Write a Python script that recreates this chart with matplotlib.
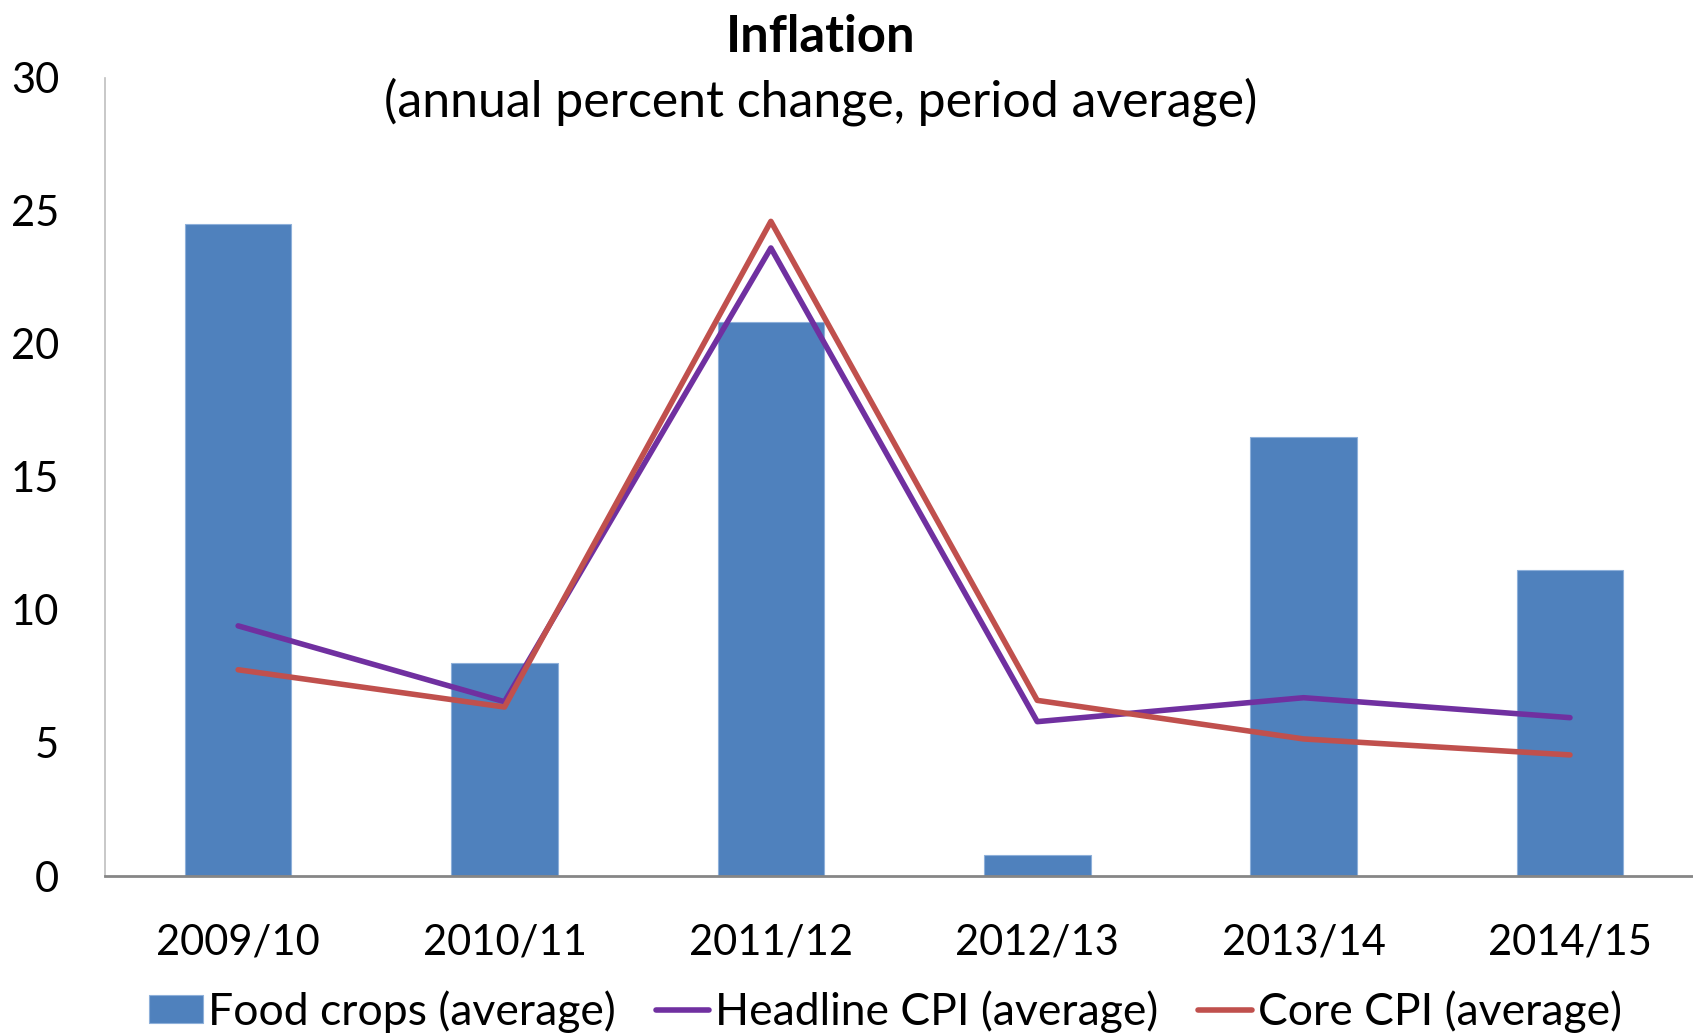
import matplotlib.pyplot as plt
import numpy as np

plt.rcParams['font.family'] = ['Lato', 'DejaVu Sans']

# data
years = ['2009/10', '2010/11', '2011/12', '2012/13', '2013/14', '2014/15']
food_crops = [24.5, 8.0, 20.8, 0.8, 16.5, 11.5]
headline_cpi = [9.4, 6.55, 23.6, 5.8, 6.7, 5.95]
core_cpi = [7.75, 6.35, 24.6, 6.6, 5.15, 4.55]

x = np.arange(len(years))

fig = plt.figure(figsize=(16.93, 10.34), dpi=100)
ax = fig.add_axes([0.062, 0.1528, 0.944, 0.7721])

bars = ax.bar(x, food_crops, width=0.4, color='#4F81BD', edgecolor='#8EB0DA',
              linewidth=0.8, label='Food crops (average)', zorder=2)
l1, = ax.plot(x, headline_cpi, color='#7030A0', lw=4.0, solid_capstyle='round',
              label='Headline CPI (average)', zorder=3)
l2, = ax.plot(x, core_cpi, color='#C0504D', lw=4.0, solid_capstyle='round',
              label='Core CPI (average)', zorder=4)

ax.set_xlim(-0.5, 5.5)
ax.set_ylim(0, 30)
ax.set_yticks([0, 5, 10, 15, 20, 25, 30])
ax.set_xticks(x)
ax.set_xticklabels(years)
ax.tick_params(axis='both', length=0, labelsize=30)
ax.tick_params(axis='x', pad=34)
ax.tick_params(axis='y', pad=33)

for side in ['top', 'right']:
    ax.spines[side].set_visible(False)
ax.spines['left'].set_color('#BFBFBF')
ax.spines['left'].set_linewidth(1.2)
ax.spines['bottom'].set_color('#868686')
ax.spines['bottom'].set_linewidth(2)

fig.text(0.485, 0.964, 'Inflation', ha='center', va='center',
         fontsize=36.5, fontweight='bold')
fig.text(0.485, 0.902, '(annual percent change, period average)',
         ha='center', va='center', fontsize=36)

fig.legend([bars, l1, l2], [bars.get_label(), l1.get_label(), l2.get_label()],
           loc='center', bbox_to_anchor=(0.523, 0.022), ncol=3,
           frameon=False, fontsize=32, handlelength=1.2, handleheight=0.6,
           handletextpad=0.13, columnspacing=0.9, borderaxespad=0)

fig.savefig('out.png', dpi=100)
